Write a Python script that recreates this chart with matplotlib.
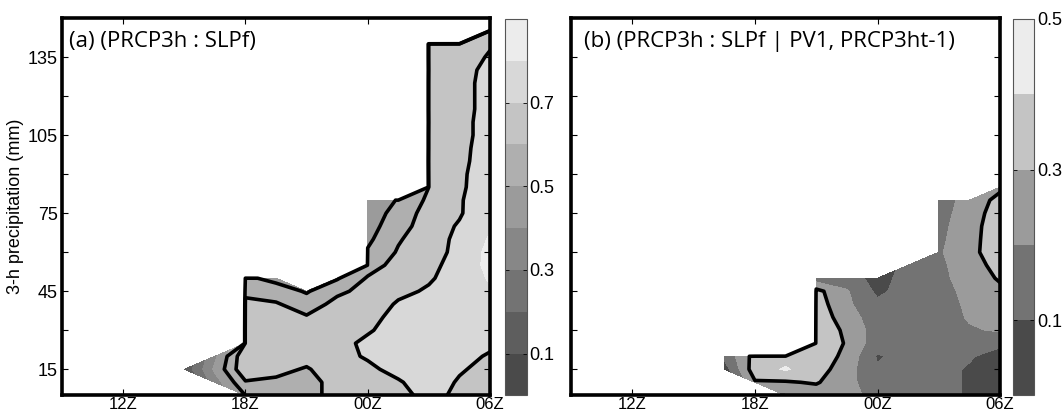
import numpy as np
import matplotlib.pyplot as plt

plt.rcParams["font.family"] = ["Liberation Sans", "DejaVu Sans"]

_ = np.nan

# grid: hour of day (24 = 00Z, 30 = 06Z) by 3-h precipitation threshold (mm)
hours = [15, 16.5, 18, 19.5, 21, 22.5, 24, 25.5, 27, 28.5, 30]
precip = list(range(150, 0, -5))  # rows listed top (150 mm) to bottom (5 mm)

# correlation x 100, panel (a) PRCP3h : SLPf
corr_a = [
    [_, _, _, _, _, _, _, _, _, _, _],
    [_, _, _, _, _, _, _, _, _, _, 68],
    [_, _, _, _, _, _, _, _, 62, 64, 69],
    [_, _, _, _, _, _, _, _, 62, 65, 71],
    [_, _, _, _, _, _, _, _, 61, 66, 73],
    [_, _, _, _, _, _, _, _, 62, 66, 74],
    [_, _, _, _, _, _, _, _, 62, 66, 74],
    [_, _, _, _, _, _, _, _, 62, 66, 74],
    [_, _, _, _, _, _, _, _, 61, 66, 75],
    [_, _, _, _, _, _, _, _, 62, 66, 75],
    [_, _, _, _, _, _, _, _, 62, 67, 75],
    [_, _, _, _, _, _, _, _, 63, 67, 76],
    [_, _, _, _, _, _, _, _, 62, 68, 76],
    [_, _, _, _, _, _, _, _, 61, 68, 77],
    [_, _, _, _, _, _, 40, 51, 62, 69, 77],
    [_, _, _, _, _, _, 44, 54, 64, 69, 78],
    [_, _, _, _, _, _, 46, 56, 65, 71, 79],
    [_, _, _, _, _, _, 48, 59, 66, 72, 81],
    [_, _, _, _, _, _, 51, 61, 67, 72, 83],
    [_, _, _, _, _, _, 55, 64, 68, 73, 83],
    [_, _, 52, 47, _, 49, 61, 66, 69, 74, 81],
    [_, _, 58, 55, 49, 58, 63, 68, 71, 76, 79],
    [_, _, 62, 61, 55, 63, 65, 71, 75, 77, 78],
    [_, _, 63, 64, 61, 65, 67, 73, 76, 77, 77],
    [_, _, 64, 65, 64, 66, 69, 74, 77, 77, 75],
    [_, _, 64, 65, 65, 67, 72, 75, 77, 76, 72],
    [_, 38, 68, 66, 64, 67, 71, 75, 77, 73, 69],
    [12, 42, 68, 63, 59, 66, 68, 73, 76, 71, 67],
    [_, 35, 59, 58, 56, 64, 66, 69, 75, 69, 65],
    [_, _, 53, 56, 58, 62, 65, 67, 73, 68, 64],
]

# correlation x 100, panel (b) PRCP3h : SLPf | PV1, PRCP3ht-1
corr_b = [
    [_, _, _, _, _, _, _, _, _, _, _],
    [_, _, _, _, _, _, _, _, _, _, _],
    [_, _, _, _, _, _, _, _, _, _, _],
    [_, _, _, _, _, _, _, _, _, _, _],
    [_, _, _, _, _, _, _, _, _, _, _],
    [_, _, _, _, _, _, _, _, _, _, _],
    [_, _, _, _, _, _, _, _, _, _, _],
    [_, _, _, _, _, _, _, _, _, _, _],
    [_, _, _, _, _, _, _, _, _, _, _],
    [_, _, _, _, _, _, _, _, _, _, _],
    [_, _, _, _, _, _, _, _, _, _, _],
    [_, _, _, _, _, _, _, _, _, _, _],
    [_, _, _, _, _, _, _, _, _, _, _],
    [_, _, _, _, _, _, _, _, _, _, 28],
    [_, _, _, _, _, _, _, _, 15, 24, 33],
    [_, _, _, _, _, _, _, _, 16, 25, 35],
    [_, _, _, _, _, _, _, _, 17, 26, 36],
    [_, _, _, _, _, _, _, _, 18, 26, 37],
    [_, _, _, _, _, _, _, _, 19, 26, 38],
    [_, _, _, _, _, _, _, 12, 18, 25, 34],
    [_, _, _, _, 15, 14, 7, 13, 17, 25, 31],
    [_, _, _, _, 33, 21, 8, 14, 16, 23, 28],
    [_, _, _, _, 35, 22, 12, 15, 15, 22, 26],
    [_, _, _, _, 36, 25, 14, 15, 15, 21, 24],
    [_, _, _, _, 37, 28, 15, 15, 14, 19, 21],
    [_, _, _, _, 38, 29, 14, 14, 14, 15, 12],
    [_, 12, 34, 36, 37, 27, 9, 14, 13, 11, 6],
    [_, 5, 36, 41, 35, 24, 11, 13, 13, 9, 5],
    [_, _, 29, 29, 31, 23, 14, 14, 13, 9, 5],
    [_, _, _, 18, 24, 22, 18, 15, 13, 9, 6],
]

levels_a = [0, 0.1, 0.2, 0.3, 0.4, 0.5, 0.6, 0.7, 0.8, 0.9]
lines_a = [0.5, 0.6, 0.7]
cticks_a = [0.1, 0.3, 0.5, 0.7]

levels_b = [0, 0.1, 0.2, 0.3, 0.4, 0.5]
lines_b = [0.3]
cticks_b = [0.1, 0.3, 0.5]

xticks = [12, 18, 24, 30]
xlabels = ["12Z", "18Z", "00Z", "06Z"]
yticks = [15, 30, 45, 60, 75, 90, 105, 120, 135]
ylabels = ["15", "", "45", "", "75", "", "105", "", "135"]


def draw_panel(ax, cax, table, levels, lines, cticks, title, title_x, show_y):
    z = np.array(table, dtype=float)[::-1] / 100.0
    y = np.array(precip[::-1])
    x = np.array(hours)
    grays = np.linspace(74, 236, len(levels) - 1) / 255.0
    colors = [(g, g, g) for g in grays]

    cf = ax.contourf(x, y, np.ma.masked_invalid(z), levels=levels, colors=colors)
    # lines drawn on a copy with the missing area pushed far down,
    # so they close along the edge of the shaded region
    z_line = np.where(np.isnan(z), -5.0, z)
    ax.contour(x, y, z_line, levels=lines, colors="black", linewidths=2.6)

    ax.set_xlim(9, 30)
    ax.set_ylim(5, 150)
    ax.set_xticks(xticks)
    ax.set_xticklabels(xlabels)
    ax.set_yticks(yticks)
    if show_y:
        ax.set_yticklabels(ylabels)
    else:
        ax.set_yticklabels([])
    ax.tick_params(direction="in", length=4, width=0.8, top=True, right=True,
                   labelsize=13, pad=3)
    ax.tick_params(axis="x", labelsize=12, pad=1)
    for s in ax.spines.values():
        s.set_linewidth(2.6)
    ax.text(title_x, 0.965, title, transform=ax.transAxes, ha="left", va="top",
            fontsize=16, family=["Open Sans", "DejaVu Sans"])

    cb = plt.colorbar(cf, cax=cax, ticks=cticks)
    cb.ax.set_yticklabels([f"{t:.1f}" for t in cticks])
    cb.outline.set_linewidth(0.8)
    cb.outline.set_edgecolor("#555555")
    cax.tick_params(direction="in", length=3, width=0.6, left=True, right=True,
                    labelsize=13, pad=2)
    return cf


fig = plt.figure(figsize=(10.62, 4.17), dpi=100)
ax_a = fig.add_axes([0.0584, 0.052, 0.403, 0.9048])
cax_a = fig.add_axes([0.4755, 0.052, 0.0207, 0.9025])
ax_b = fig.add_axes([0.5377, 0.052, 0.404, 0.9048])
cax_b = fig.add_axes([0.9539, 0.052, 0.0198, 0.9025])

draw_panel(ax_a, cax_a, corr_a, levels_a, lines_a, cticks_a,
           "(a) (PRCP3h : SLPf)", 0.016, True)
draw_panel(ax_b, cax_b, corr_b, levels_b, lines_b, cticks_b,
           "(b) (PRCP3h : SLPf | PV1, PRCP3ht-1)", 0.03, False)

ax_a.set_ylabel("3-h precipitation (mm)", fontsize=13, labelpad=3)

fig.savefig("out.png", dpi=100)
